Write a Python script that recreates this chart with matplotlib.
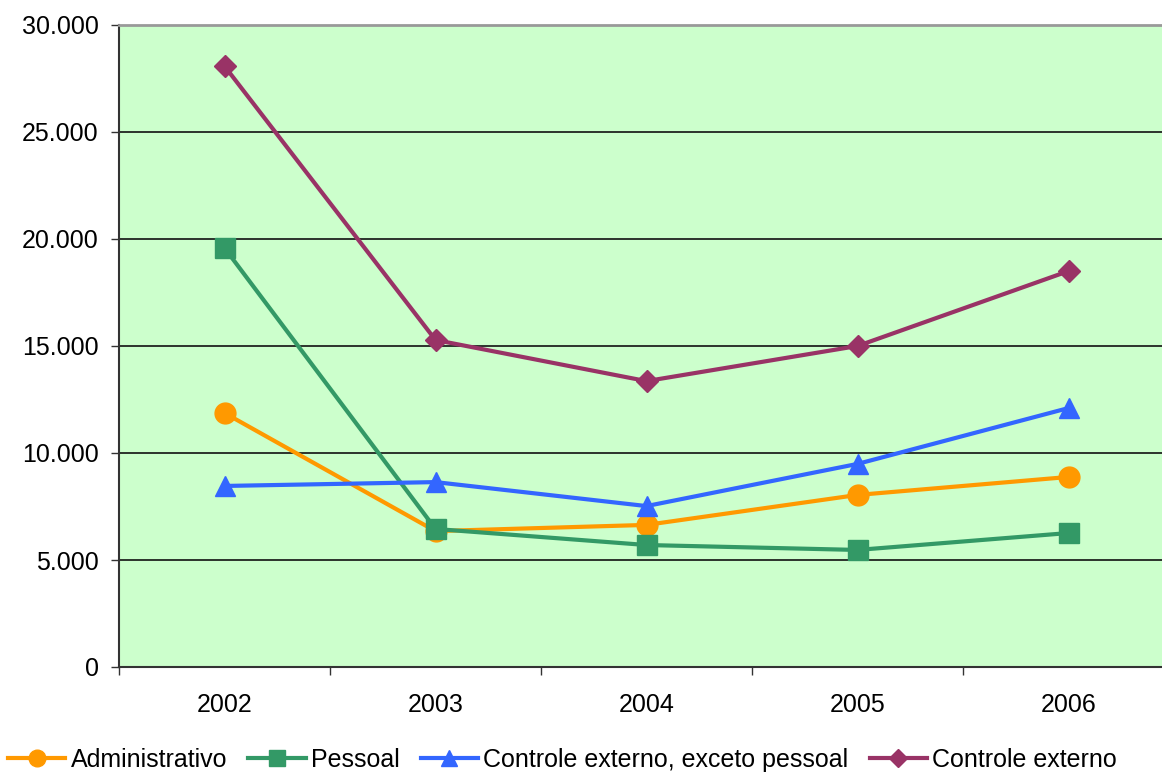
import matplotlib.pyplot as plt
from matplotlib.ticker import FuncFormatter, MultipleLocator, FixedLocator

plt.rcParams["font.family"] = ["Liberation Sans", "DejaVu Sans"]

years = ["2002", "2003", "2004", "2005", "2006"]
administrativo = [11870, 6350, 6640, 8040, 8880]
pessoal = [19580, 6450, 5700, 5470, 6260]
controle_exceto_pessoal = [8460, 8640, 7520, 9490, 12100]
controle_externo = [28080, 15280, 13360, 15000, 18500]

series = [
    ("Administrativo", administrativo, "#FF9900", "o", 15),
    ("Pessoal", pessoal, "#339966", "s", 14),
    ("Controle externo, exceto pessoal", controle_exceto_pessoal, "#3366FF", "^", 15),
    ("Controle externo", controle_externo, "#993366", "D", 11),
]

fig = plt.figure(figsize=(11.62, 7.73), dpi=100)
ax = fig.add_axes([119 / 1162, 1 - 667 / 773, 1055 / 1162, 642 / 773])
ax.set_facecolor("#CCFFCC")

x = list(range(len(years)))
for label, values, color, marker, ms in series:
    ax.plot(x, values, color=color, marker=marker, markersize=ms, linewidth=3,
            label=label, clip_on=False, zorder=3)

ax.set_xlim(-0.5, len(years) - 0.5)
ax.set_ylim(0, 30000)
ax.yaxis.set_major_locator(MultipleLocator(5000))
ax.yaxis.set_major_formatter(FuncFormatter(lambda v, p: f"{int(v):,}".replace(",", ".")))
ax.grid(axis="y", color="#111111", linewidth=1.2, zorder=1)

# year labels centred, tick marks on the category boundaries
ax.set_xticks(x)
ax.set_xticklabels(years)
ax.xaxis.set_minor_locator(FixedLocator([i - 0.5 for i in range(len(years) + 1)]))
ax.tick_params(axis="x", which="major", length=0, pad=19, labelsize=18)
ax.tick_params(axis="x", which="minor", length=6, width=1, color="#333333")
ax.tick_params(axis="y", length=6, width=1, color="#333333", pad=8.5, labelsize=18)

ax.spines["right"].set_visible(False)
ax.spines["top"].set_color("#999999")
ax.spines["top"].set_linewidth(2)
for side in ("left", "bottom"):
    ax.spines[side].set_color("#333333")
    ax.spines[side].set_linewidth(1.5)

fig.legend(loc="center", bbox_to_anchor=(0.484, 1 - 760 / 773), ncol=4, frameon=False,
           fontsize=18, handlelength=2.3, handletextpad=0.2, columnspacing=0.85,
           markerscale=0.8)

fig.savefig("out.png", dpi=100)
